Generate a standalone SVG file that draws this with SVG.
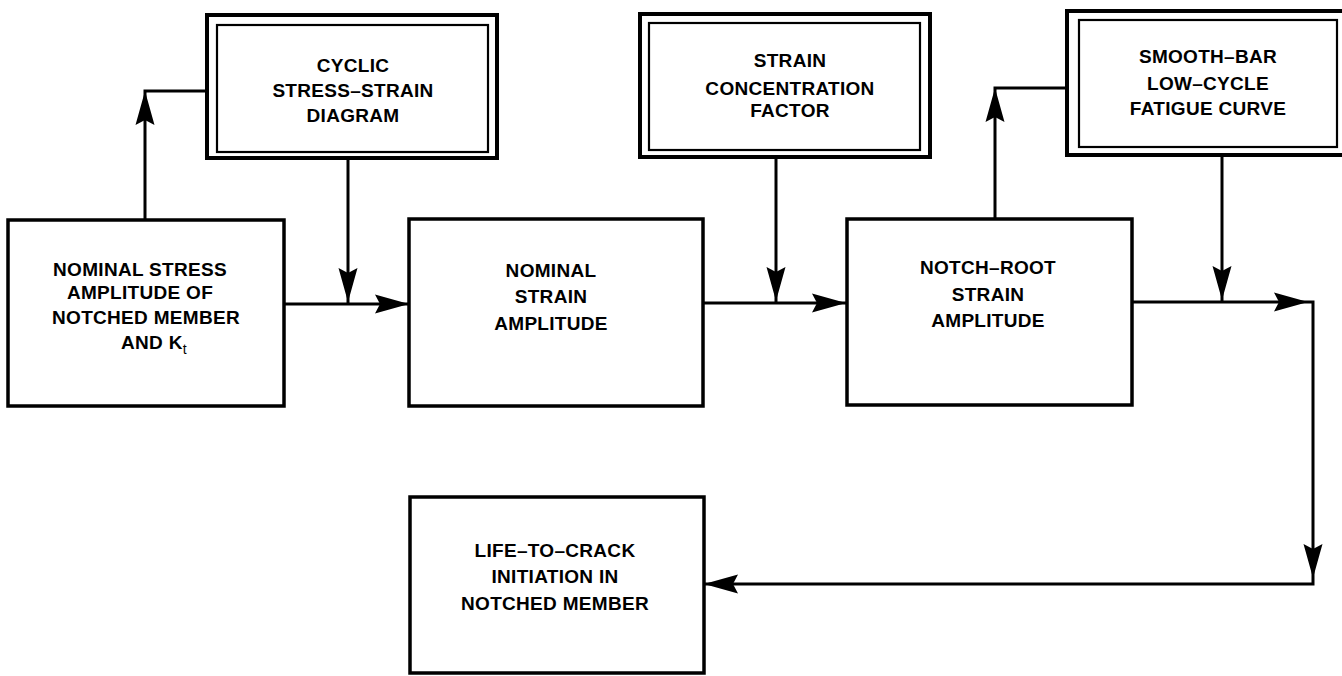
<svg xmlns="http://www.w3.org/2000/svg" xmlns:xlink="http://www.w3.org/1999/xlink" width="1342" height="676" viewBox="0 0 1342 676">
<style>
.box{fill:none;stroke:#000;stroke-width:3.5}
.outer{fill:none;stroke:#000;stroke-width:4}
.inner{fill:none;stroke:#000;stroke-width:2.2}
.ln{fill:none;stroke:#000;stroke-width:3}
.t{font-family:"Liberation Sans",Arial,sans-serif;font-size:19px;font-weight:bold;letter-spacing:0.3px;text-anchor:middle;fill:#000}
.ah{fill:#000}
</style>
<defs>
<path id="ah" d="M0,0 L-34,-9.5 L-29,0 L-34,9.5 Z"/>
</defs>
<rect width="1342" height="676" fill="#fff"/>
<g id="connectors">
<polyline class="ln" points="145,220 145,91 207,91"/>
<use href="#ah" class="ah" transform="translate(145,91) rotate(-90)"/>
<line class="ln" x1="348" y1="158" x2="348" y2="304"/>
<use href="#ah" class="ah" transform="translate(348,302) rotate(90)"/>
<line class="ln" x1="284" y1="304" x2="409" y2="304"/>
<use href="#ah" class="ah" transform="translate(409,304)"/>
<line class="ln" x1="776" y1="158" x2="776" y2="303"/>
<use href="#ah" class="ah" transform="translate(776,301) rotate(90)"/>
<line class="ln" x1="703" y1="303" x2="846" y2="303"/>
<use href="#ah" class="ah" transform="translate(846,303)"/>
<polyline class="ln" points="995,218 995,88 1067,88"/>
<use href="#ah" class="ah" transform="translate(995,88) rotate(-90)"/>
<line class="ln" x1="1222" y1="155" x2="1222" y2="302"/>
<use href="#ah" class="ah" transform="translate(1222,300) rotate(90)"/>
<polyline class="ln" points="1132,302 1313,302 1313,584 704,584"/>
<use href="#ah" class="ah" transform="translate(1308,302)"/>
<use href="#ah" class="ah" transform="translate(1313,578) rotate(90)"/>
<use href="#ah" class="ah" transform="translate(704,584) rotate(180)"/>
</g>
<g id="node-nominal-stress">
<rect class="box" x="8" y="220" width="276" height="186"/>
<text class="t" x="140" y="276">NOMINAL STRESS</text>
<text class="t" x="140" y="299">AMPLITUDE OF</text>
<text class="t" x="146" y="324">NOTCHED MEMBER</text>
<text class="t" x="154" y="349">AND K<tspan font-size="14" font-weight="normal" dy="5">t</tspan></text>
</g>
<g id="node-cyclic">
<rect class="outer" x="207" y="15" width="290" height="143"/>
<rect class="inner" x="217" y="25" width="271" height="127"/>
<text class="t" x="353" y="72">CYCLIC</text>
<text class="t" x="353" y="97">STRESS–STRAIN</text>
<text class="t" x="353" y="122">DIAGRAM</text>
</g>
<g id="node-nominal-strain">
<rect class="box" x="409" y="219" width="294" height="187"/>
<text class="t" x="551" y="277">NOMINAL</text>
<text class="t" x="551" y="303">STRAIN</text>
<text class="t" x="551" y="330">AMPLITUDE</text>
</g>
<g id="node-scf">
<rect class="outer" x="640" y="14" width="290" height="143"/>
<rect class="inner" x="649" y="23" width="271" height="127"/>
<text class="t" x="790" y="67">STRAIN</text>
<text class="t" x="790" y="95">CONCENTRATION</text>
<text class="t" x="790" y="117">FACTOR</text>
</g>
<g id="node-notch-root">
<rect class="box" x="847" y="219" width="285" height="186"/>
<text class="t" x="988" y="274">NOTCH–ROOT</text>
<text class="t" x="988" y="301">STRAIN</text>
<text class="t" x="988" y="327">AMPLITUDE</text>
</g>
<g id="node-smooth-bar">
<rect class="outer" x="1067" y="11" width="278" height="144"/>
<rect class="inner" x="1079" y="20" width="258" height="127"/>
<text class="t" x="1208" y="63">SMOOTH–BAR</text>
<text class="t" x="1208" y="90">LOW–CYCLE</text>
<text class="t" x="1208" y="115">FATIGUE CURVE</text>
</g>
<g id="node-life">
<rect class="box" x="410" y="497" width="294" height="176"/>
<text class="t" x="555" y="557">LIFE–TO–CRACK</text>
<text class="t" x="555" y="583">INITIATION IN</text>
<text class="t" x="555" y="610">NOTCHED MEMBER</text>
</g>
</svg>
